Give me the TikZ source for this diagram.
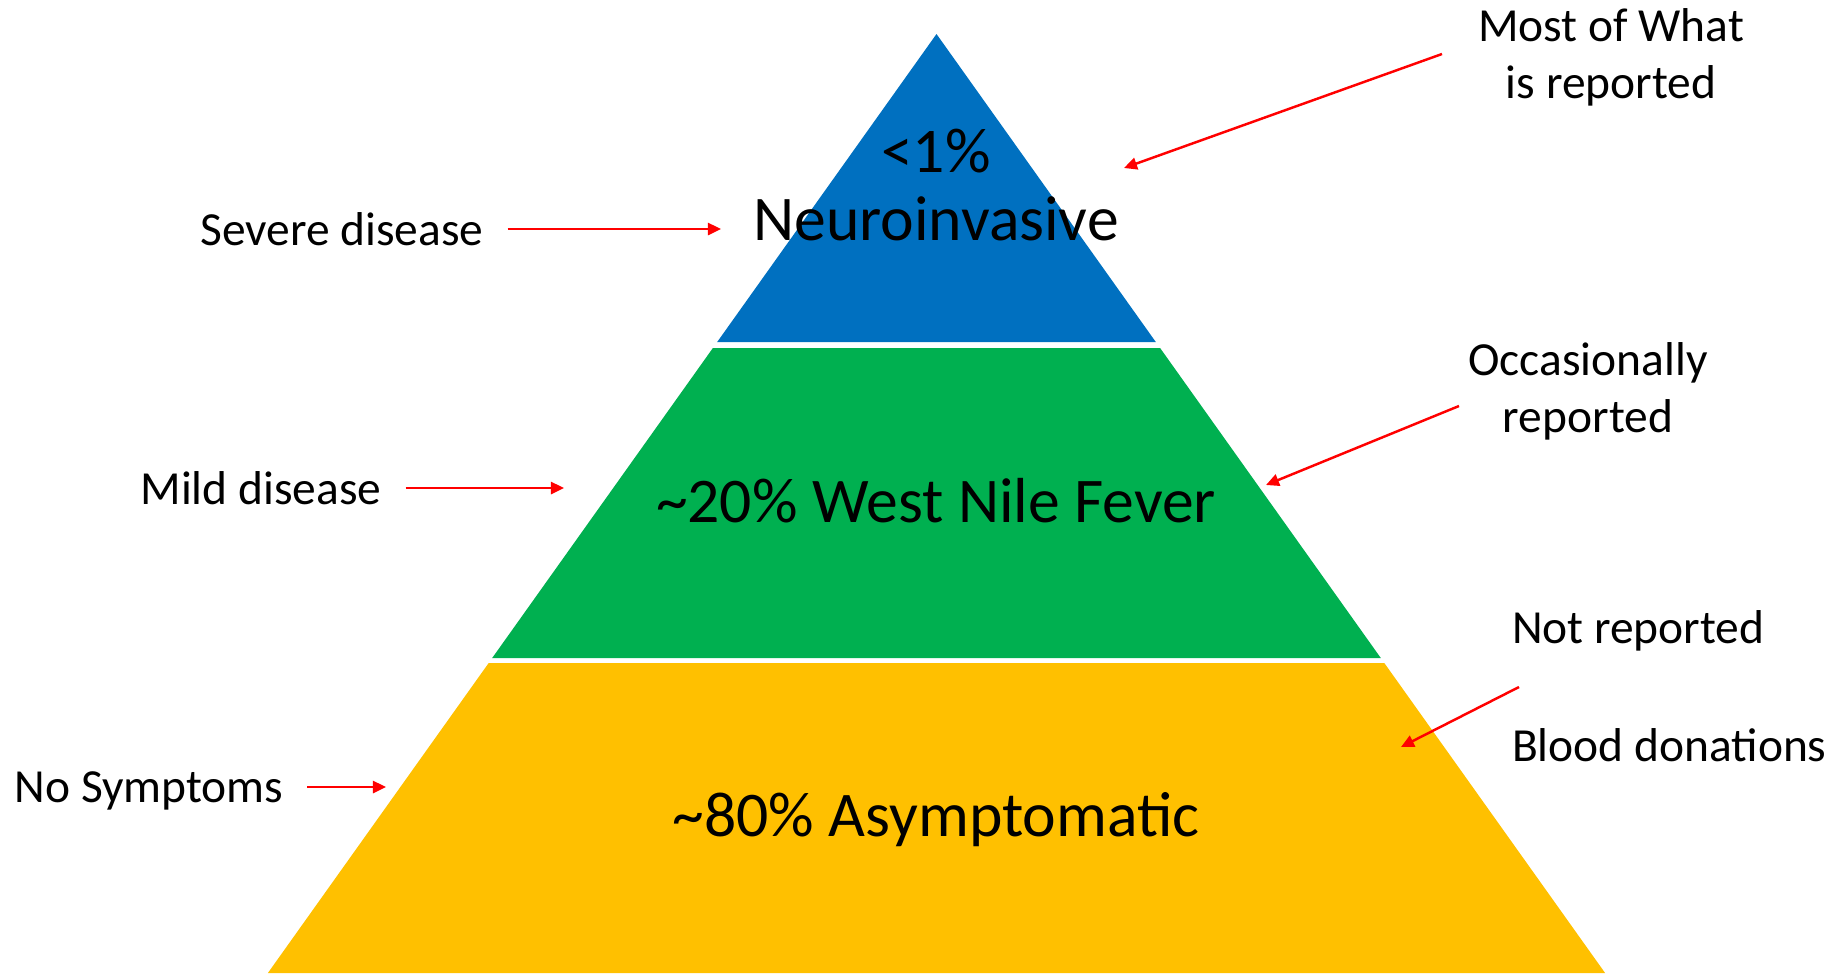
\documentclass[tikz,border=0pt]{standalone}
\usepackage{fontspec}
\setmainfont{Carlito}
\usetikzlibrary{arrows.meta, positioning}
\definecolor{tierblue}{HTML}{0070C0}
\definecolor{tiergreen}{HTML}{00B050}
\definecolor{tieryellow}{HTML}{FFC000}
\tikzstyle{sidenote} = [font=\fontsize{13.5}{16.2}\selectfont, align=center, inner sep=0pt, outer xsep=0.24cm]
\tikzstyle{tiertext} = [font=\fontsize{18.1}{19.6}\selectfont, align=center, inner sep=0pt]
\tikzstyle{pointer} = [draw=red, line width=0.7pt, -{Triangle[length=1.3mm, width=1.2mm]}]

\begin{document}
\begin{tikzpicture}[x=0.01cm, y=-0.01cm]
\useasboundingbox (0,0) rectangle (1841,975);
% pyramid tiers
\fill[tierblue] (936.5,34) -- (1155.8,342) -- (717.2,342) -- cycle;
\fill[tiergreen] (712.9,348) -- (1160.1,348) -- (1380.8,658) -- (492.2,658) -- cycle;
\fill[tieryellow] (488.7,663) -- (1384.3,663) -- (1605.1,973) -- (267.9,973) -- cycle;
\node (neuro) [tiertext] at (936,185) {<1\%\\Neuroinvasive};
\node (fever) [tiertext] at (936,501) {\textasciitilde20\% West Nile Fever};
\node (asympt) [tiertext] at (936,820) {\textasciitilde80\% Asymptomatic};
% left side
\node (severe) [sidenote] at (342,229) {Severe disease};
\node (mild) [sidenote] at (261,488) {Mild disease};
\node (nosympt) [sidenote, text depth=0pt] at (149,787) {No Symptoms};
\coordinate (severetip) at (721,229);
\coordinate (mildtip) at (564,488);
\coordinate (nosympttip) at (386,787);
\draw [pointer] (severe) -- (severetip);
\draw [pointer] (mild) -- (mildtip);
\draw [pointer] (nosympt) -- (nosympttip);
% right side
\node (mostof) [sidenote] at (1611,57) {Most of What\\is reported};
\node (occas) [sidenote] at (1588,391) {Occasionally\\reported};
\node (notrep) [sidenote, anchor=west, outer xsep=0pt] at (1512,631) {Not reported};
\node (blood) [sidenote, anchor=west, outer xsep=0pt] at (1512,745) {Blood donations};
\coordinate (mosttail) at (1442,54);
\coordinate (mosttip) at (1124,168);
\coordinate (occastail) at (1459,406);
\coordinate (occastip) at (1266,485);
\coordinate (notreptail) at (1519,687);
\coordinate (notreptip) at (1401,747);
\draw [pointer] (mosttail) -- (mosttip);
\draw [pointer] (occastail) -- (occastip);
\draw [pointer] (notreptail) -- (notreptip);
\end{tikzpicture}
\end{document}
